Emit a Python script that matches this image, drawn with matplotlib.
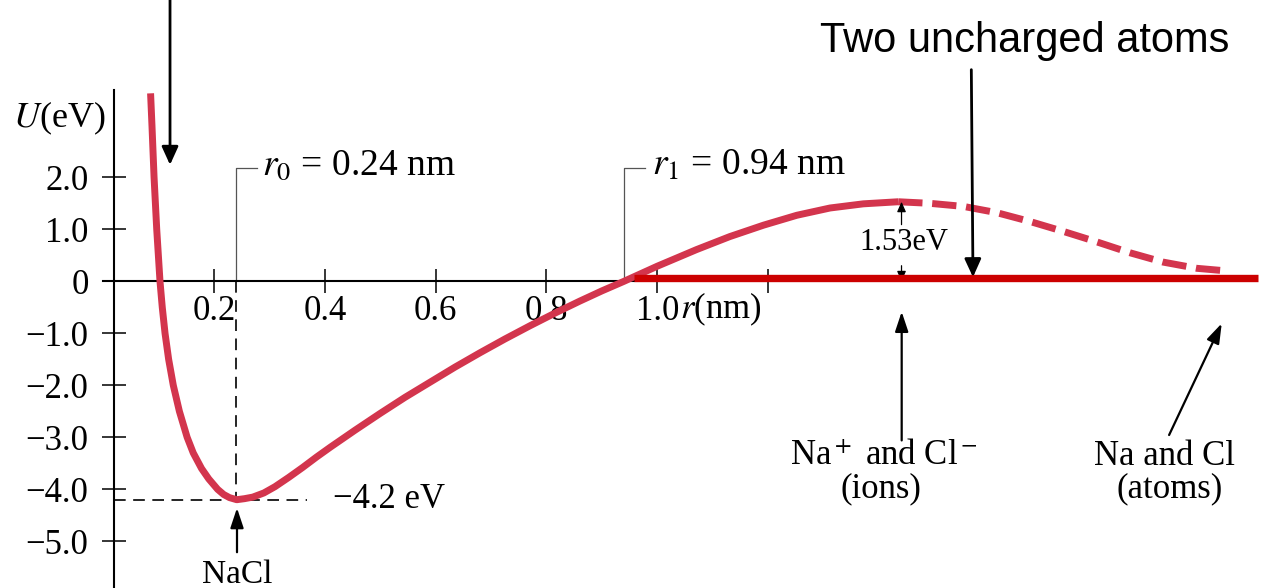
import matplotlib.pyplot as plt

plt.rcParams['font.family'] = ['Liberation Serif', 'DejaVu Serif']
plt.rcParams['mathtext.fontset'] = 'stix'

# U(r) for the Na-Cl pair: solid branch up to the top of the barrier
r_solid = [0.0855, 0.0880, 0.0918, 0.0966, 0.1025, 0.1066, 0.1116, 0.1181,
           0.1265, 0.1375, 0.1515, 0.1625, 0.1775, 0.1905, 0.2065, 0.2175,
           0.228, 0.241, 0.255, 0.27, 0.29, 0.31, 0.335, 0.36, 0.385, 0.41,
           0.455, 0.50, 0.545, 0.59, 0.635, 0.68, 0.725, 0.77, 0.815, 0.86,
           0.90, 0.94, 1.0, 1.071, 1.131, 1.192, 1.252, 1.312, 1.372, 1.435]
u_solid = [3.615, 3.0, 2.0, 1.0, 0.0, -0.5, -1.0, -1.5,
           -2.0, -2.5, -3.0, -3.3, -3.6, -3.8, -4.0, -4.1,
           -4.16, -4.2, -4.18, -4.15, -4.07, -3.95, -3.77, -3.58, -3.38, -3.19,
           -2.86, -2.54, -2.23, -1.94, -1.65, -1.375, -1.11, -0.857, -0.614,
           -0.382, -0.185, 0.0, 0.29, 0.61, 0.86, 1.08, 1.27, 1.41, 1.49, 1.53]
# dashed continuation out to separated neutral atoms
r_dashed = [1.435, 1.492, 1.553, 1.613, 1.673, 1.733, 1.793, 1.853, 1.913,
            1.974, 2.028]
u_dashed = [1.53, 1.50, 1.44, 1.32, 1.15, 0.96, 0.76, 0.55, 0.37, 0.25, 0.20]

x_ticks = [0.2, 0.4, 0.6, 0.8, 1.0, 1.2]
x_tick_labels = ['0.2', '0.4', '0.6', '0.8', '1.0', '']
y_ticks = [2, 1, 0, -1, -2, -3, -4, -5]
y_tick_labels = ['2.0', '1.0', '0', '\u22121.0', '\u22122.0', '\u22123.0',
                 '\u22124.0', '\u22125.0']

r0 = 0.24          # equilibrium separation (nm)
u_min = -4.2       # well depth (eV)
r1 = 0.94          # crossing point (nm)
barrier = 1.53     # ionisation barrier (eV)
r_barrier = 1.435
u_atoms = 0.07     # level of the two uncharged atoms
r_atoms = [0.958, 2.085]

CURVE = '#D3354D'
LEVEL = '#CC0000'

fig = plt.figure(figsize=(12.64, 5.88), dpi=100)
ax = fig.add_axes([0, 0, 1, 1])
ax.set_xlim(-0.1863, 2.0953)
ax.set_ylim(-5.898, 5.410)

for side in ['top', 'right']:
    ax.spines[side].set_visible(False)
ax.spines['left'].set_position(('data', 0.02))
ax.spines['bottom'].set_position(('data', 0))
ax.spines['left'].set_bounds(-5.9, 3.68)
ax.spines['bottom'].set_bounds(0, r_atoms[0])
for side in ['left', 'bottom']:
    ax.spines[side].set_linewidth(1.5)

ax.set_xticks(x_ticks, x_tick_labels)
ax.set_yticks(y_ticks, y_tick_labels)
ax.tick_params(direction='inout', length=17, width=1.1, labelsize=25)
ax.tick_params(axis='x', pad=1)
ax.tick_params(axis='y', pad=10)

# potential energy curve
ax.plot(r_solid, u_solid, color=CURVE, lw=5, solid_capstyle='butt',
        solid_joinstyle='round', zorder=3)
ax.plot(r_dashed, u_dashed, color=CURVE, lw=5, dashes=(3.5, 1.4), zorder=3)

# axis continues as a grey dashed line under the atom level
ax.plot([r_atoms[0], 2.03], [0, 0], color='#8a8a8a', lw=1.2,
        dashes=(10, 4), zorder=2)
ax.plot(r_atoms, [u_atoms, u_atoms], color=LEVEL, lw=5.3,
        solid_capstyle='butt', zorder=4)

# r0 and r1 leader lines
ax.plot([r0, r0, 0.277], [0, 2.18, 2.18], color='#555555', lw=0.9)
ax.plot([r1, r1, 0.978], [0, 2.18, 2.18], color='#555555', lw=0.9)
ax.plot([r0, r0], [0, u_min], color='black', lw=1.2, dashes=(7, 4.5))
ax.plot([0.02, 0.368], [u_min, u_min], color='black', lw=1.2,
        dashes=(7, 4.5))

ax.text(0.287, 2.22, f'$r_0$ = {r0:.2f} nm', va='center', fontsize=27)
ax.text(0.99, 2.22, f'$r_1$ = {r1:.2f} nm', va='center', fontsize=27)
ax.text(0.415, u_min, f'\u2212{abs(u_min)} eV', va='center', fontsize=25)
ax.text(-0.163, 3.14, '$U$(eV)', va='center', fontsize=26)
ax.text(1.041, -0.54, '$r$(nm)', va='center', fontsize=25)

# barrier height marker
small = dict(arrowstyle='-|>,head_length=0.5,head_width=0.22', lw=0.9,
             color='black', mutation_scale=12, shrinkA=0, shrinkB=0)
ax.annotate('', xy=(r_barrier + 0.006, barrier),
            xytext=(r_barrier + 0.006, 1.09), arrowprops=small)
ax.annotate('', xy=(r_barrier + 0.006, 0.0),
            xytext=(r_barrier + 0.006, 0.30), arrowprops=small)
ax.text(r_barrier + 0.011, 0.74, f'{barrier}eV', ha='center', va='center',
        fontsize=22)


def arrow(tail, tip, lw=2.0, head='head_length=0.55,head_width=0.25'):
    ax.annotate('', xy=tip, xytext=tail, zorder=5,
                arrowprops=dict(arrowstyle='-|>,' + head, lw=lw,
                                color='black', mutation_scale=20,
                                shrinkA=0, shrinkB=0))


arrow((0.1206, 5.6), (0.1206, 2.24))
arrow((1.567, 4.07), (1.570, 0.08))
arrow((r0 + 0.0015, -5.21), (r0 + 0.0015, -4.36), lw=1.6,
      head='head_length=0.6,head_width=0.2')
arrow((1.4413, -3.06), (1.4413, -0.585), lw=1.6,
      head='head_length=0.6,head_width=0.2')
arrow((1.924, -2.956), (2.019, -0.81), lw=1.6,
      head='head_length=0.6,head_width=0.2')

ax.text(r0 + 0.0015, -5.65, 'NaCl', ha='center', va='center', fontsize=24)
ax.text(1.410, -3.37, 'Na$^+$ and Cl$^-$', ha='center', va='center',
        fontsize=25)
ax.text(1.404, -3.99, '(ions)', ha='center', va='center', fontsize=25)
ax.text(1.915, -3.37, 'Na and Cl', ha='center', va='center', fontsize=25)
ax.text(1.925, -3.99, '(atoms)', ha='center', va='center', fontsize=25)

ax.text(1.664, 4.62, 'Two uncharged atoms', ha='center', va='center',
        fontsize=30, family=['Liberation Sans', 'DejaVu Sans'])

fig.savefig('out.png', dpi=100)
